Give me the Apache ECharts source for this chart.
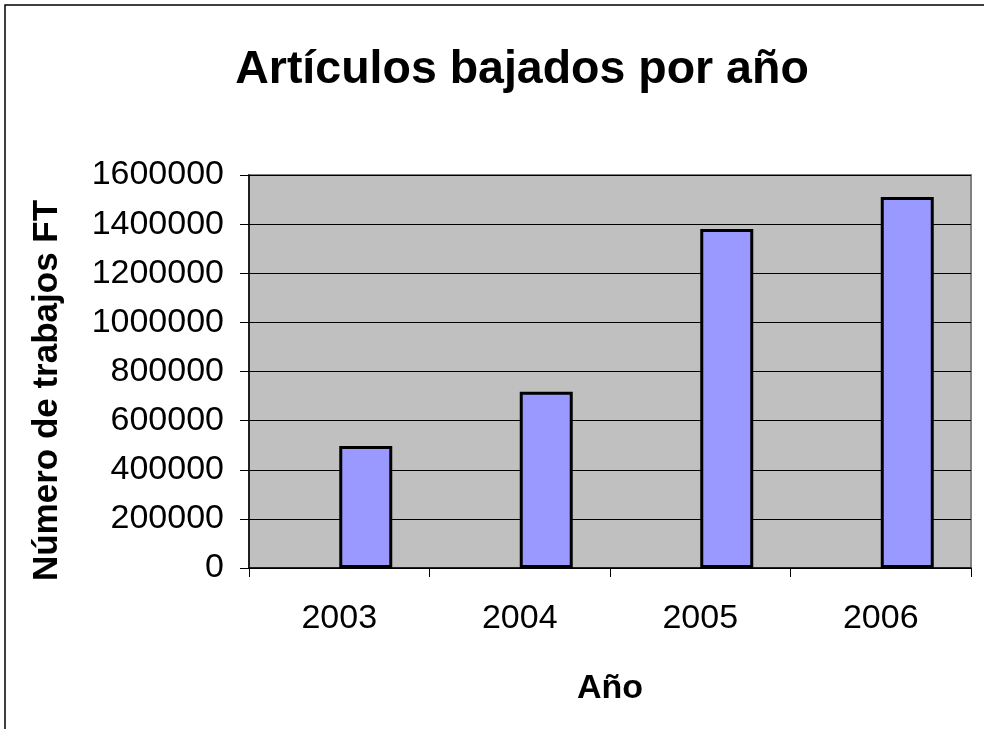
<!DOCTYPE html>
<html>
<head>
<meta charset="utf-8">
<script src="https://cdn.jsdelivr.net/npm/echarts@6/dist/echarts.min.js"></script>
<style>
  html, body { margin: 0; padding: 0; background: #fff; }
  #chart { width: 984px; height: 729px; }
</style>
</head>
<body>
<div id="chart"></div>
<script>
// datos
var years = ['2003', '2004', '2005', '2006'];
var articulos = [497000, 718000, 1380000, 1510000];
var vacia = [null, null, null, null]; // serie vacia de Excel (desplaza las barras)
var yTicks = { min: 0, max: 1600000, interval: 200000 };

var fuente = '"Liberation Sans", Arial, sans-serif';

var chart = echarts.init(document.getElementById('chart'));

var option = {
	backgroundColor: '#fff',
	animation: false,
	textStyle: { fontFamily: fuente },
	title: {
		text: 'Artículos bajados por año',
		left: 517,
		top: 42,
		textAlign: 'center',
		textStyle: { fontSize: 46.5, fontWeight: 'bold', color: '#000', fontFamily: fuente }
	},
	graphic: [{
		type: 'rect',
		shape: { x: 5, y: 5, width: 1200, height: 1200 },
		style: { fill: 'none', stroke: '#000', lineWidth: 1.5 },
		silent: true
	}],
	grid: {
		left: 249,
		right: 13,
		top: 175,
		bottom: 161,
		show: true,
		backgroundColor: '#C0C0C0',
		borderColor: '#808080',
		borderWidth: 2
	},
	xAxis: {
		type: 'category',
		data: years,
		name: 'Año',
		nameLocation: 'middle',
		nameGap: 104,
		nameTextStyle: { fontSize: 34, fontWeight: 'bold', color: '#000', fontFamily: fuente },
		axisLine: { lineStyle: { color: '#000', width: 1.5 } },
		axisTick: { show: true, length: 9, alignWithLabel: false, lineStyle: { color: '#000' } },
		axisLabel: { fontSize: 34, color: '#000', margin: 34, fontFamily: fuente },
		splitLine: { show: false }
	},
	yAxis: {
		type: 'value',
		min: yTicks.min,
		max: yTicks.max,
		interval: yTicks.interval,
		name: 'Número de trabajos FT',
		nameLocation: 'middle',
		nameGap: 184,
		nameTextStyle: {
			fontSize: 35, fontWeight: 'bold', color: '#000', fontFamily: fuente,
			padding: [0, 38, 0, 0]  // baja el titulo un poco, como en Excel
		},
		axisLine: { show: true, lineStyle: { color: '#000', width: 1.5 } },
		axisTick: { show: true, length: 9, lineStyle: { color: '#000' } },
		axisLabel: {
			fontSize: 34, color: '#000', margin: 25, fontFamily: fuente,
			formatter: function (v) { return String(v); }
		},
		splitLine: { show: true, lineStyle: { color: '#000', width: 1 } }
	},
	series: [{
		name: 'vacia',
		type: 'bar',
		data: vacia,
		barWidth: 53,
		barGap: '0%'
	}, {
		name: 'Artículos',
		type: 'bar',
		data: articulos,
		barWidth: 53,
		barGap: '0%',
		itemStyle: { color: '#9999FF', borderColor: '#000', borderWidth: 3 }
	}]
};

chart.setOption(option);
</script>
</body>
</html>
